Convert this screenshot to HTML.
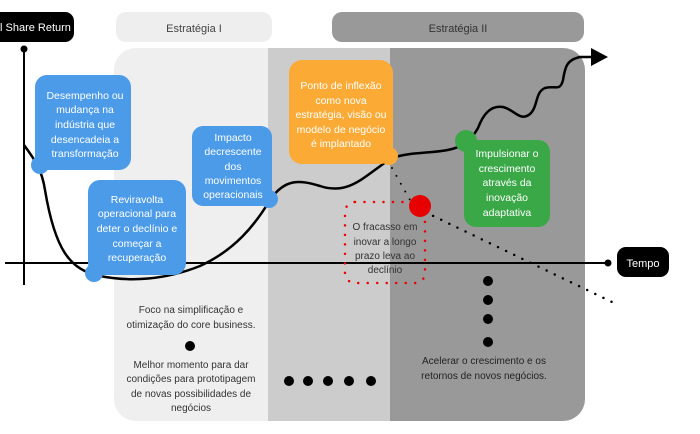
<!DOCTYPE html>
<html><head><meta charset="utf-8"><style>
html,body{margin:0;padding:0;background:#fff;}
svg{display:block;font-family:"Liberation Sans",sans-serif;}
</style></head><body>
<svg width="700" height="434" viewBox="0 0 700 434" xmlns="http://www.w3.org/2000/svg">
<defs><clipPath id="pc"><rect x="114" y="48" width="471" height="373" rx="22"/></clipPath></defs>
<g clip-path="url(#pc)">
<rect x="114" y="48" width="154" height="373" fill="#efefef"/>
<rect x="268" y="48" width="122" height="373" fill="#cccccc"/>
<rect x="390" y="48" width="195" height="373" fill="#999999"/>
</g>
<rect x="116" y="12" width="156" height="30" rx="10" fill="#eeeeee"/>
<text x="194" y="32" font-size="11" fill="#444" text-anchor="middle">Estratégia I</text>
<rect x="332" y="12" width="252" height="30" rx="10" fill="#999999"/>
<text x="458" y="32" font-size="11" fill="#333" text-anchor="middle">Estratégia II</text>
<rect x="-20" y="12" width="94" height="30" rx="9" fill="#000"/>
<text x="0" y="31" font-size="11" fill="#fff">l Share Return</text>
<line x1="24" y1="49" x2="24" y2="285" stroke="#000" stroke-width="2"/>
<circle cx="24" cy="49" r="3.5"/>
<line x1="5" y1="263" x2="608" y2="263" stroke="#000" stroke-width="2"/>
<circle cx="608" cy="263" r="3.5"/>
<rect x="617" y="247" width="52" height="30" rx="9" fill="#000"/>
<text x="643" y="267" font-size="11" fill="#fff" text-anchor="middle">Tempo</text>
<path d="M392 168 L410 200" stroke="#000" stroke-width="2" stroke-dasharray="0 9" stroke-linecap="round" fill="none"/>
<path d="M425 212 L612 302" stroke="#000" stroke-width="2.5" stroke-dasharray="0 9" stroke-linecap="round" fill="none"/>
<rect x="345" y="202" width="80" height="81" rx="10" fill="none" stroke="#e00" stroke-width="2.5" stroke-dasharray="0 9.5" stroke-linecap="round"/>
<circle cx="420" cy="206" r="11" fill="#e60000"/>
<text font-size="10" fill="#333" text-anchor="middle"><tspan x="385" y="230">O fracasso em</tspan><tspan x="385" y="245">inovar a longo</tspan><tspan x="385" y="259">prazo leva ao</tspan><tspan x="385" y="273">declínio</tspan></text>
<path d="M24 145 C35 160 42 170 45 190 C55 250 70 270 100 276 C130 282 165 280 200 266 C235 250 255 225 270 200 C285 178 300 180 320 186 C350 196 365 175 392 158 C415 150 445 155 462 145 C470 140 474 135 478 128 C483 115 490 105 503 107 C515 110 520 122 530 114 C538 107 535 92 545 88 C555 85 560 92 563 80 C565 68 566 60 580 57 L592 57" stroke="#000" stroke-width="2.5" fill="none"/>
<polygon points="591,48 608,57 591,66" fill="#000"/>
<rect x="35" y="75" width="96" height="95" rx="12" fill="#4c9be8"/>
<circle cx="40" cy="165" r="9" fill="#4c9be8"/>
<text font-size="10.5" fill="#fff" text-anchor="middle"><tspan x="85" y="99">Desempenho ou</tspan><tspan x="85" y="113">mudança na</tspan><tspan x="85" y="128">indústria que</tspan><tspan x="85" y="143">desencadeia a</tspan><tspan x="85" y="157">transformação</tspan></text>
<rect x="88" y="180" width="98" height="95" rx="12" fill="#4c9be8"/>
<circle cx="94" cy="273" r="9" fill="#4c9be8"/>
<text font-size="10.5" fill="#fff" text-anchor="middle"><tspan x="137" y="203">Reviravolta</tspan><tspan x="137" y="217">operacional para</tspan><tspan x="137" y="232">deter o declínio e</tspan><tspan x="137" y="247">começar a</tspan><tspan x="137" y="261">recuperação</tspan></text>
<rect x="192" y="126" width="80" height="80" rx="11" fill="#4c9be8"/>
<circle cx="269" cy="199" r="9" fill="#4c9be8"/>
<text font-size="10.5" fill="#fff" text-anchor="middle"><tspan x="233" y="141">Impacto</tspan><tspan x="233" y="155">decrescente</tspan><tspan x="233" y="170">dos</tspan><tspan x="233" y="184">movimentos</tspan><tspan x="233" y="198">operacionais</tspan></text>
<rect x="289" y="60" width="104" height="104" rx="13" fill="#fbab35"/>
<circle cx="389" cy="156" r="9" fill="#fbab35"/>
<text font-size="10.5" fill="#fff" text-anchor="middle"><tspan x="341" y="89">Ponto de inflexão</tspan><tspan x="341" y="104">como nova</tspan><tspan x="341" y="118">estratégia, visão ou</tspan><tspan x="341" y="133">modelo de negócio</tspan><tspan x="341" y="147">é implantado</tspan></text>
<rect x="464" y="140" width="86" height="87" rx="12" fill="#3aa847"/>
<circle cx="466" cy="141" r="11" fill="#3aa847"/>
<text font-size="10.5" fill="#fff" text-anchor="middle"><tspan x="507" y="157">Impulsionar o</tspan><tspan x="507" y="172">crescimento</tspan><tspan x="507" y="186">através da</tspan><tspan x="507" y="201">inovação</tspan><tspan x="507" y="216">adaptativa</tspan></text>
<text font-size="10" fill="#333" text-anchor="middle"><tspan x="191" y="313">Foco na simplificação e</tspan><tspan x="191" y="328">otimização do core business.</tspan><tspan x="191" y="368">Melhor momento para dar</tspan><tspan x="191" y="382">condições para prototipagem</tspan><tspan x="191" y="397">de novas possibilidades de</tspan><tspan x="191" y="411">negócios</tspan></text>
<circle cx="190" cy="346" r="5"/>
<circle cx="289" cy="381" r="5"/><circle cx="308" cy="381" r="5"/><circle cx="328" cy="381" r="5"/><circle cx="349" cy="381" r="5"/><circle cx="371" cy="381" r="5"/>
<circle cx="488" cy="281" r="5"/><circle cx="488" cy="300" r="5"/><circle cx="488" cy="319" r="5"/><circle cx="488" cy="342" r="5"/>
<text font-size="10" fill="#222" text-anchor="middle"><tspan x="484" y="364">Acelerar o crescimento e os</tspan><tspan x="484" y="379">retornos de novos negócios.</tspan></text>
</svg>
</body></html>
